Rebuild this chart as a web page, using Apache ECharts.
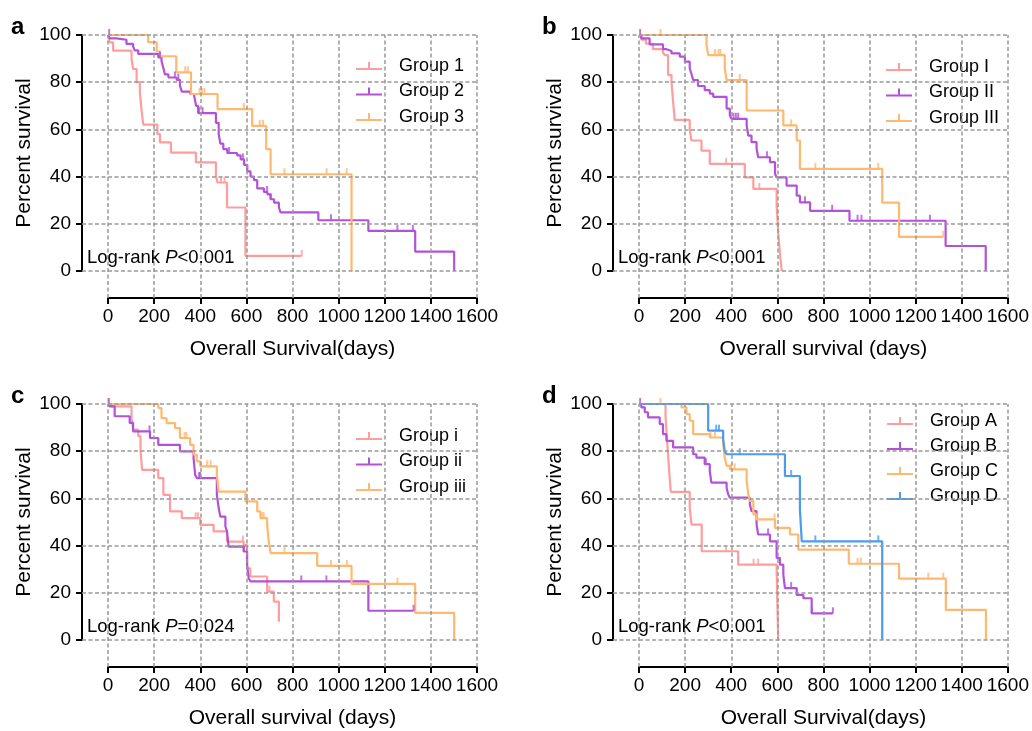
<!DOCTYPE html>
<html>
  <head>
    <meta charset="utf-8" />
    <title>Kaplan-Meier survival curves</title>
    <script src="https://cdn.jsdelivr.net/npm/echarts@6.0.0/dist/echarts.min.js"></script>
    <style>
      body { margin: 0; background: #fff; }
      #main { width: 1032px; height: 731px; }
    </style>
  </head>
  <body>
    <div id="main"></div>
    <script>
      // axis ticks
      var xTicks = [0, 200, 400, 600, 800, 1000, 1200, 1400, 1600]
      var yTicks = [0, 20, 40, 60, 80, 100]

      // panel a : T = event days, S = percent survival after the step, C = censored days
      var aG1T = [0, 7, 22, 102, 109, 124, 138, 145, 153, 214, 225, 273, 381, 468, 475, 516, 596, 840]
      var aG1S = [100, 96.9, 93.4, 89.8, 85.6, 80, 75.7, 68.6, 62, 58, 54.5, 50.2, 46, 40.3, 37.5, 26.9, 6.4, 6.4]
      var aG1C = [490, 505, 840]
      var aG2T = [0, 7, 36, 80, 109, 116, 131, 218, 232, 240, 247, 262, 298, 312, 320, 357, 374, 382, 391, 468, 480, 487, 500, 517, 560, 575, 590, 604, 618, 633, 647, 676, 691, 705, 720, 741, 748, 912, 1129, 1332, 1501]
      var aG2S = [100, 98.6, 98, 96.2, 95, 93.5, 92, 90.5, 89, 86, 83.3, 82, 81, 78.5, 76, 75, 74, 70, 66.9, 62.8, 58, 54, 51.6, 50, 49, 47.3, 45, 42.2, 40, 38.5, 35, 33.5, 32.5, 30.4, 29, 27, 24.8, 21.5, 17, 8.2, 0]
      var aG2C = [5, 225, 290, 305, 395, 410, 525, 585, 690, 705, 967, 1255, 1322]
      var aG3T = [0, 174, 211, 226, 296, 360, 475, 625, 686, 705, 1056]
      var aG3S = [100, 97, 93, 91, 84.2, 75, 68.6, 61.5, 51.6, 41, 0]
      var aG3C = [335, 346, 397, 407, 418, 589, 658, 672, 765, 948, 1035]

      // panel b
      var bG1T = [0, 10, 30, 60, 104, 112, 126, 141, 148, 155, 220, 227, 271, 307, 459, 496, 597, 604, 611, 619]
      var bG1S = [100, 98, 96.3, 94, 92.5, 91.5, 83, 80, 71.6, 64, 60.3, 55.3, 51, 45.4, 39.7, 34.8, 27.7, 16.3, 7.8, 0]
      var bG1C = [378, 522]
      var bG2T = [0, 10, 46, 104, 119, 141, 177, 199, 220, 227, 235, 256, 285, 307, 322, 380, 394, 401, 467, 474, 488, 510, 517, 568, 590, 597, 640, 684, 698, 742, 913, 1330, 1504]
      var bG2S = [100, 98.6, 96, 94, 93.2, 92.2, 90.8, 88.7, 85.8, 83.7, 80.9, 78.4, 76.6, 75.2, 73.8, 68.8, 66, 64.5, 61.7, 57.4, 54.6, 51.8, 48.2, 46.1, 41.1, 39.7, 36.2, 31.9, 29.1, 25.5, 21.3, 10.6, 0]
      var bG2C = [5, 410, 420, 430, 555, 720, 838, 948, 965, 1262]
      var bG3T = [0, 293, 300, 372, 380, 467, 626, 684, 698, 1055, 1128, 1320]
      var bG3S = [100, 95.7, 91.5, 85.8, 80.9, 68, 61.7, 55.3, 43.3, 29, 14.5, 14.5]
      var bG3C = [93, 330, 345, 353, 437, 660, 765, 1038, 1320]

      // panel c
      var cG1T = [0, 15, 102, 109, 131, 141, 148, 218, 240, 269, 320, 400, 458, 516, 588, 603, 617, 690, 719, 741]
      var cG1S = [100, 99, 94, 89.1, 86.4, 80, 72.1, 68.6, 61.5, 54.5, 51.6, 48.8, 46, 41.7, 40.3, 30.4, 26.9, 20.5, 16.3, 7.8]
      var cG1C = [3, 380, 390, 585, 700, 741]
      var cG2T = [0, 7, 29, 94, 109, 182, 218, 312, 371, 378, 385, 472, 480, 487, 509, 516, 523, 588, 603, 610, 618, 1129, 1325]
      var cG2S = [100, 99, 94.8, 92, 88.4, 85.6, 82.7, 79.9, 77.1, 70, 68.6, 61.5, 55.9, 52.3, 48.1, 46, 39.6, 37.5, 31.8, 26.2, 24.8, 12.4, 12.4]
      var cG2C = [3, 180, 395, 400, 590, 838, 947, 1325]
      var cG3T = [0, 218, 232, 254, 291, 312, 356, 371, 385, 400, 472, 480, 596, 647, 661, 690, 697, 705, 907, 1056, 1332, 1501]
      var cG3S = [100, 98.3, 94, 91.9, 89.8, 85.6, 82.7, 78.5, 75.7, 73.6, 70, 62.9, 58.7, 54.5, 51.6, 48.8, 41.7, 36.8, 31.4, 23.8, 11.5, 0]
      var cG3C = [332, 340, 430, 445, 668, 675, 765, 967, 1036, 1255]

      // panel d
      var dG1T = [0, 115, 120, 125, 132, 138, 220, 228, 272, 430, 597, 604]
      var dG1S = [100, 95, 87, 80, 70, 62.8, 56, 48.9, 37.6, 31.9, 29, 0]
      var dG1C = [378, 497, 517]
      var dG2T = [0, 10, 25, 39, 90, 104, 119, 148, 235, 249, 285, 307, 314, 380, 387, 394, 481, 488, 510, 517, 568, 597, 611, 626, 633, 684, 713, 749, 841]
      var dG2S = [100, 98.6, 96.5, 94.3, 91.5, 87.2, 84.4, 81.6, 78.7, 77.3, 74.5, 71.6, 66.7, 64.5, 61.7, 60.3, 57.4, 54.6, 48.9, 44.7, 41.8, 34.8, 31.9, 27.7, 22, 19.1, 17.7, 11.3, 11.3]
      var dG2C = [5, 290, 560, 660, 750, 841]
      var dG3T = [0, 184, 206, 220, 235, 307, 365, 372, 380, 394, 467, 474, 481, 496, 510, 590, 655, 691, 910, 1128, 1331, 1505]
      var dG3S = [100, 98.6, 95.7, 92.9, 87.2, 85.8, 83, 77.3, 73.8, 72.3, 67.4, 61.7, 58.9, 53.2, 51.1, 47.5, 44.7, 38.3, 32.3, 26, 12.8, 0]
      var dG3C = [93, 310, 330, 400, 415, 588, 948, 962, 1255, 1320]
      var dG4T = [0, 300, 365, 372, 380, 633, 698, 706, 1055]
      var dG4S = [100, 88.7, 85.1, 80.1, 78.7, 69.5, 55.3, 41.8, 0]
      var dG4C = [335, 347, 437, 660, 765, 1038]

      var FONT = "'Liberation Sans', Arial, Helvetica, sans-serif"
      var colors = ['#ff9d9d', '#b352d8', '#ffb870', '#4a9cf2']
      var W = 369, H = 236 // plot area
      var OX = 26, OY = 27 // axes are pushed away from the plot

      var panels = [
        { tag: 'a', left: 108, top: 35, xName: 'Overall Survival(days)', p: '<0.001',
          names: ['Group 1', 'Group 2', 'Group 3'],
          curves: [[aG1T, aG1S, aG1C], [aG2T, aG2S, aG2C], [aG3T, aG3S, aG3C]],
          legendLeft: 356, legendTop: 57, legendGap: 7.5 },
        { tag: 'b', left: 639, top: 35, xName: 'Overall survival (days)', p: '<0.001',
          names: ['Group I', 'Group II', 'Group III'],
          curves: [[bG1T, bG1S, bG1C], [bG2T, bG2S, bG2C], [bG3T, bG3S, bG3C]],
          legendLeft: 886, legendTop: 58, legendGap: 7.5 },
        { tag: 'c', left: 108, top: 404, xName: 'Overall survival (days)', p: '=0.024',
          names: ['Group i', 'Group ii', 'Group iii'],
          curves: [[cG1T, cG1S, cG1C], [cG2T, cG2S, cG2C], [cG3T, cG3S, cG3C]],
          legendLeft: 356, legendTop: 427, legendGap: 7.5 },
        { tag: 'd', left: 639, top: 404, xName: 'Overall Survival(days)', p: '<0.001',
          names: ['Group A', 'Group B', 'Group C', 'Group D'],
          curves: [[dG1T, dG1S, dG1C], [dG2T, dG2S, dG2C], [dG3T, dG3S, dG3C], [dG4T, dG4S, dG4C]],
          legendLeft: 887, legendTop: 412, legendGap: 7 }
      ]

      // survival value of a step curve at day t
      function stepAt(T, S, t) {
        var v = S[0]
        for (var i = 0; i < T.length; i++) {
          if (T[i] <= t) v = S[i]
        }
        return v
      }

      var option = {
        animation: false,
        textStyle: { fontFamily: FONT, color: '#000' },
        title: [],
        legend: [],
        grid: [],
        xAxis: [],
        yAxis: [],
        series: []
      }

      var gridDash = { type: [4, 2.5], color: '#999', width: 1.5 }
      var blackLine = { color: '#000', width: 2 }
      var plainLabel = function (v) { return '' + v }

      panels.forEach(function (p, i) {
        var g = i * 2
        // plot grid and a slightly larger one for the dashed lines
        option.grid.push({ left: p.left, top: p.top, width: W, height: H })
        option.grid.push({ left: p.left - OX, top: p.top, width: W + OX, height: H + OY })

        option.xAxis.push({
          gridIndex: g, type: 'value', min: 0, max: 1600, interval: 200, offset: OY,
          axisLine: { show: true, onZero: false, lineStyle: blackLine },
          axisTick: { show: true, length: 6, lineStyle: blackLine },
          axisLabel: {
            fontSize: 19, color: '#000', margin: 9, fontFamily: FONT, formatter: plainLabel,
            showMinLabel: true, showMaxLabel: true, hideOverlap: false
          },
          splitLine: { show: false },
          name: p.xName, nameLocation: 'middle', nameGap: 41,
          nameTextStyle: { fontSize: 21, color: '#000', fontFamily: FONT }
        })
        option.xAxis.push({ gridIndex: g + 1, type: 'value', min: -OX * 1600 / W, max: 1600, show: false })

        option.yAxis.push({
          gridIndex: g, type: 'value', min: 0, max: 100, interval: 20, offset: OX,
          axisLine: { show: true, onZero: false, lineStyle: blackLine },
          axisTick: { show: true, length: 6, lineStyle: blackLine },
          axisLabel: {
            fontSize: 19, color: '#000', margin: 11, fontFamily: FONT, formatter: plainLabel,
            showMinLabel: true, showMaxLabel: true
          },
          splitLine: { show: false },
          name: 'Percent survival', nameLocation: 'middle', nameGap: 47,
          nameTextStyle: { fontSize: 21, color: '#000', fontFamily: FONT }
        })
        option.yAxis.push({ gridIndex: g + 1, type: 'value', min: -OY * 100 / H, max: 100, show: false })

        // dashed grid lines
        option.series.push({
          type: 'line', xAxisIndex: g + 1, yAxisIndex: g + 1, z: 0, silent: true,
          data: [[0, 0]], showSymbol: false, lineStyle: { opacity: 0 },
          markLine: {
            silent: true, symbol: ['none', 'none'], label: { show: false },
            lineStyle: gridDash, emphasis: { disabled: true },
            data: xTicks.map(function (v) { return { xAxis: v } })
              .concat(yTicks.map(function (v) { return { yAxis: v } }))
          }
        })

        // curves + censor marks
        p.curves.forEach(function (c, k) {
          var col = colors[k]
          var T = c[0], S = c[1], C = c[2]
          option.series.push({
            name: p.names[k], type: 'line', step: 'end', xAxisIndex: g, yAxisIndex: g,
            data: T.map(function (t, j) { return [t, S[j]] }),
            showSymbol: false, clip: false, z: 3,
            lineStyle: { width: 2.2, color: col }, itemStyle: { color: col }
          })
          option.series.push({
            type: 'scatter', xAxisIndex: g, yAxisIndex: g, silent: true, clip: false, z: 4,
            data: C.map(function (t) { return [t, stepAt(T, S, t)] }),
            symbol: 'rect', symbolSize: [2, 6], symbolOffset: [0, -3],
            itemStyle: { color: col }
          })
        })

        option.legend.push({
          data: p.names, left: p.legendLeft, top: p.legendTop, orient: 'vertical',
          itemGap: p.legendGap, itemWidth: 26, itemHeight: 8, padding: 0,
          icon: 'path://M0,6h26v2H0z M12,0h2v6h-2z', selectedMode: false,
          textStyle: { fontSize: 18, color: '#000', fontFamily: FONT, padding: [0, 0, 0, 12] }
        })

        option.title.push({
          text: p.tag, left: p.left - 97, top: p.top - 20, padding: 0,
          textStyle: { fontSize: 24, fontWeight: 'bold', color: '#000', fontFamily: FONT }
        })
        option.title.push({
          text: 'Log-rank {i|P}' + p.p, left: p.left - 21, top: p.top + 213, padding: 0,
          textStyle: {
            fontSize: 18.5, fontWeight: 'normal', color: '#000', fontFamily: FONT,
            rich: { i: { fontStyle: 'italic', fontSize: 18.5, color: '#000', fontFamily: FONT } }
          }
        })
      })

      var myChart = echarts.init(document.getElementById('main'))
      myChart.setOption(option)
    </script>
  </body>
</html>
